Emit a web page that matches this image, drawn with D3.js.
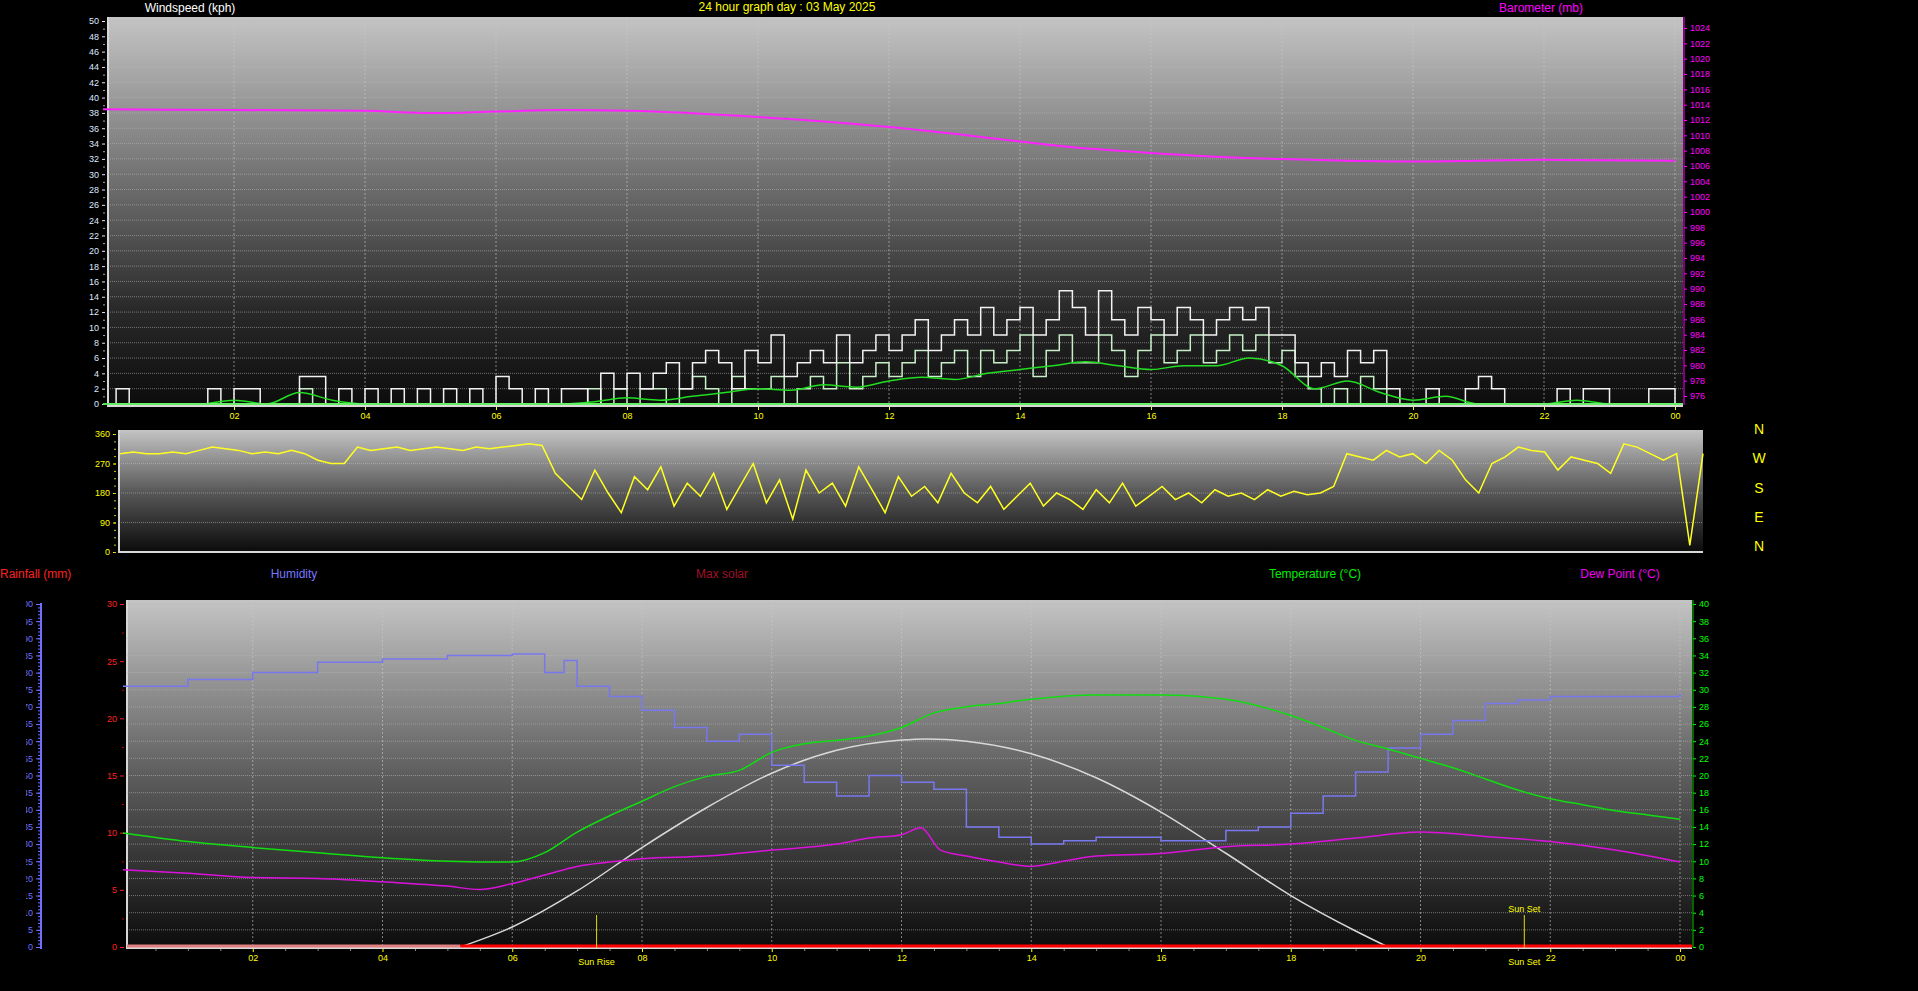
<!DOCTYPE html>
<html><head><meta charset="utf-8">
<script src="https://cdn.jsdelivr.net/npm/d3@7"></script>
<style>
body{margin:0;background:#000;overflow:hidden}
text{font-family:"Liberation Sans",Arial,sans-serif}
</style></head>
<body><div id="chart"></div>
<script>
// ---- data ----
const hourTicks = [2,4,6,8,10,12,14,16,18,20,22,24];
const hourLabels = ["02","04","06","08","10","12","14","16","18","20","22","00"];

// barometer (mb), hourly-ish
const baroHours = [0,2,4,5,6,7,8,10,12,13,14,15,16,17,18,19,20,22,24];
const baroValues = [1013.4,1013.3,1013.2,1012.9,1013.1,1013.3,1013.2,1012.4,1011.1,1010.2,1009.2,1008.3,1007.7,1007.2,1006.9,1006.7,1006.6,1006.8,1006.7];

// wind, 0.2 h steps
const gustValues = [0,2,0,0,0,0,0,0,2,0,2,2,0,0,0,3.6,3.6,0,2,0,2,0,2,0,2,
  0,2,0,2,0,3.6,2,0,2,0,2,2,0,4,2,4,2,4,5.4,2,5.4,7,5.4,2,7,
  5.4,9,3.6,5.4,7,5.4,9,5.4,7,9,7,9,11,7,9,11,9,12.6,9,11,12.6,9,11,14.8,12.6,
  9,14.8,11,9,12.6,11,9,12.6,11,9,11,12.6,11,12.6,9,9,5.4,3.6,5.4,3.6,7,5.4,7,2,0,
  0,2,0,0,2,3.6,2,0,0,0,0,2,0,2,2,0,0,0,2,2,0];
const speedValues = [0,0,0,0,0,0,0,0,0,0,0,0,0,0,0,2,0,0,0,0,0,0,0,0,0,
  0,0,0,0,0,0,0,0,0,0,0,0,2,0,2,0,2,2,0,2,3.6,2,0,3.6,2,
  2,3.6,0,2,3.6,2,5.4,2,3.6,5.4,3.6,5.4,7,3.6,5.4,7,3.6,7,5.4,7,9,3.6,7,9,5.4,
  5.4,9,7,3.6,7,9,5.4,7,9,5.4,7,9,7,9,5.4,7,3.6,2,0,2,0,3.6,2,0,0,
  0,0,0,0,0,0,0,0,0,0,0,0,0,0,0,0,0,0,0,0,0];
// average wind, 0.5 h steps
const avgValues = [0,0,0,0,0.5,0,1.5,0.5,0,0,
  0,0,0,0,0,0.3,0.8,0.5,1,1.5,
  2,1.8,2.5,2.2,3,3.5,3.2,4,4.5,5,
  5.5,5,4.5,5,5,6,5,2,3,1.5,
  0.5,1,0,0,0,0.5,0,0,0];
// wind direction (deg), 0.2 h steps
const dirValues = [300,305,300,300,305,300,310,320,315,310,300,305,300,310,300,
  280,270,270,320,310,315,320,310,315,320,315,310,320,315,320,
  325,330,325,240,200,
  160,250,180,120,230,190,260,140,210,170,
  240,130,200,270,150,220,100,250,180,210,
  140,260,190,120,230,170,200,150,240,180,
  150,200,130,170,210,140,180,160,130,190,
  150,210,140,170,200,160,180,150,190,170,
  180,160,190,170,185,
  175,180,200,300,290,
  280,310,290,300,270,310,280,220,180,270,290,320,310,305,250,290,280,270,240,330,320,300,280,300,20,300];

// bottom panel
const humHours = [0,1,2,3,4,5,6,6.5,6.8,7,7.5,8,8.5,9,9.5,10,10.5,11,11.5,12,12.5,13,13.5,14,14.5,15,16,17,17.5,18,18.5,19,19.5,20,20.5,21,21.5,22,23,24];
const humValues = [76,78,80,83,84,85,85.4,80,83.5,76,73,69,64,60,62,53,48,44,50,48,46,35,32,30,31,32,31,34,35,39,44,51,58,62,66,71,72,73,73,74];
const tempHours = [0,1,2,3,4,5,6,6.5,7,7.5,8,8.5,9,9.5,10,10.5,11,11.5,12,12.5,13,13.5,14,15,16,17,18,18.5,19,19.5,20,20.5,21,21.5,22,22.5,23,23.5,24];
const tempValues = [13.3,12.3,11.6,11,10.4,10,9.9,11,13.4,15.3,17,18.7,19.9,20.6,22.7,23.7,24.1,24.6,25.6,27.3,28,28.4,28.9,29.4,29.4,28.9,27,25.6,24.1,23.1,22,20.9,19.6,18.3,17.3,16.6,15.9,15.4,14.9];
const dewHours = [0,1,2,3,4,5,5.5,6,6.5,7,7.5,8,9,10,11,11.5,12,12.3,12.6,13,13.5,14,14.5,15,16,17,18,19,20,21,22,23,24];
const dewValues = [9,8.6,8.1,8,7.6,7.1,6.7,7.4,8.4,9.4,9.9,10.3,10.6,11.3,12,12.7,13.1,13.9,11.3,10.6,9.9,9.4,10,10.6,10.9,11.7,12,12.7,13.4,12.9,12.3,11.3,9.9];
const solarHours = [5.2,6,7,8,9,10,11,12,12.4,13,14,15,16,17,18,19,19.5];
const solarValues = [0,1.75,4.9,8.7,12.2,15.2,17.2,18.1,18.2,18,16.9,14.8,11.8,8.2,4.5,1.4,0];
const sunRise = 7.3, sunSet = 21.6;

// ---- drawing ----
const W = 1918, H = 991;
const svg = d3.select("#chart").append("svg").attr("width", W).attr("height", H)
  .style("background", "#000");
const defs = svg.append("defs");

function gradient(id, stops) {
  const g = defs.append("linearGradient").attr("id", id)
    .attr("x1", 0).attr("y1", 0).attr("x2", 0).attr("y2", 1);
  stops.forEach(s => g.append("stop").attr("offset", s[0]).attr("stop-color", s[1]));
}
gradient("bgTop", [[0, "#c4c4c4"], [0.45, "#6a6a6a"], [0.75, "#2a2a2a"], [1, "#0c0c0c"]]);
gradient("bgDir", [[0, "#c4c4c4"], [0.5, "#5a5a5a"], [1, "#0c0c0c"]]);
gradient("bgBot", [[0, "#c4c4c4"], [0.5, "#5e5e5e"], [1, "#0c0c0c"]]);

function panel(x0, x1, y0, y1, fill) {
  svg.append("rect").attr("x", x0).attr("y", y0).attr("width", x1 - x0).attr("height", y1 - y0)
    .attr("fill", `url(#${fill})`);
  svg.append("line").attr("x1", x0).attr("x2", x0).attr("y1", y0).attr("y2", y1 + 2)
    .attr("stroke", "#d8d8d8").attr("stroke-width", 2);
  svg.append("line").attr("x1", x0).attr("x2", x1).attr("y1", y1 + 1).attr("y2", y1 + 1)
    .attr("stroke", "#d8d8d8").attr("stroke-width", 2);
}
function hgrid(x0, x1, ys) {
  svg.append("g").selectAll("line").data(ys).join("line")
    .attr("x1", x0).attr("x2", x1).attr("y1", d => d).attr("y2", d => d)
    .attr("stroke", "#b8b8b8").attr("stroke-opacity", 0.55).attr("stroke-dasharray", "1,1");
}
function vgrid(xs, y0, y1) {
  svg.append("g").selectAll("line").data(xs).join("line")
    .attr("x1", d => d).attr("x2", d => d).attr("y1", y0).attr("y2", y1)
    .attr("stroke", "#c8c8c8").attr("stroke-opacity", 0.6).attr("stroke-dasharray", "2,2");
}
function styleAxis(g, color) {
  g.select(".domain").remove();
  g.selectAll("line").attr("stroke", color);
  g.selectAll("text").attr("fill", color).style("font-size", "9px");
}
function label(x, y, t, color, anchor = "middle", size = 12) {
  svg.append("text").attr("x", x).attr("y", y).attr("fill", color).attr("text-anchor", anchor)
    .style("font-size", size + "px").text(t);
}
const idx02 = (v, i) => [i * 0.2, v];
const idx05 = (v, i) => [i * 0.5, v];

// Top panel: wind & barometer
const t = {x0: 108, x1: 1683, y0: 17, y1: 405};
const xTop = d3.scaleLinear().domain([0, 24]).range([103, 1675]);
const yWind = d3.scaleLinear().domain([0, 50]).range([404, 21]);
const yBaro = d3.scaleLinear().domain([976, 1024]).range([396, 28]);
panel(t.x0, t.x1, t.y0, t.y1, "bgTop");
hgrid(t.x0, t.x1, d3.range(2, 51, 2).map(yWind));
vgrid(hourTicks.map(xTop), t.y0, t.y1);

styleAxis(svg.append("g").attr("transform", `translate(${t.x0 - 3},0)`)
  .call(d3.axisLeft(yWind).tickValues(d3.range(0, 51, 2)).tickSize(3).tickFormat(d3.format("d"))), "#dfe8ff");
styleAxis(svg.append("g").attr("transform", `translate(${t.x0 - 3},0)`)
  .call(d3.axisLeft(yWind).tickValues(d3.range(1, 50, 2)).tickSize(2).tickFormat("")), "#aaaaaa");
styleAxis(svg.append("g").attr("transform", `translate(${t.x1 + 1},0)`)
  .call(d3.axisRight(yBaro).tickValues(d3.range(976, 1025, 2)).tickSize(3).tickFormat(d3.format("d"))), "#ff00ff");
svg.append("line").attr("x1", t.x1 + 1).attr("x2", t.x1 + 1).attr("y1", t.y0).attr("y2", t.y1)
  .attr("stroke", "#ff00ff");
styleAxis(svg.append("g").attr("transform", `translate(0,${t.y1 + 2})`)
  .call(d3.axisBottom(xTop).tickValues(hourTicks).tickSize(3).tickFormat((d, i) => hourLabels[i])), "#ffff00");

const lineTop = d3.line().x(d => xTop(d[0]));
svg.append("path").datum(speedValues.map(idx02))
  .attr("d", lineTop.y(d => yWind(d[1])).curve(d3.curveStepAfter))
  .attr("fill", "none").attr("stroke", "#c8f0c8").attr("stroke-width", 1.5);
svg.append("path").datum(gustValues.map(idx02))
  .attr("d", lineTop.y(d => yWind(d[1])).curve(d3.curveStepAfter))
  .attr("fill", "none").attr("stroke", "#f2f2f2").attr("stroke-width", 1.5);
svg.append("path").datum(avgValues.map(idx05))
  .attr("d", lineTop.y(d => yWind(d[1])).curve(d3.curveMonotoneX))
  .attr("fill", "none").attr("stroke", "#22dd22").attr("stroke-width", 1.5);
svg.append("line").attr("x1", t.x0).attr("x2", t.x1).attr("y1", yWind(0)).attr("y2", yWind(0))
  .attr("stroke", "#66ee66").attr("stroke-width", 2);
svg.append("path").datum(baroHours.map((h, i) => [h, baroValues[i]]))
  .attr("d", lineTop.y(d => yBaro(d[1])).curve(d3.curveMonotoneX))
  .attr("fill", "none").attr("stroke", "#ff22ff").attr("stroke-width", 2);

label(190, 12, "Windspeed (kph)", "#ffffff");
label(787, 11, "24 hour graph day : 03 May 2025", "#ffff00");
label(1541, 12, "Barometer (mb)", "#ff00ff");

// Direction panel
const dp = {x0: 119, x1: 1703, y0: 430, y1: 551};
const xDir = d3.scaleLinear().domain([0, 24]).range([120, 1703]);
const yDir = d3.scaleLinear().domain([0, 360]).range([552, 434]);
panel(dp.x0, dp.x1, dp.y0, dp.y1, "bgDir");
hgrid(dp.x0, dp.x1, [90, 180, 270, 360].map(yDir));
styleAxis(svg.append("g").attr("transform", `translate(${dp.x0 - 3},0)`)
  .call(d3.axisLeft(yDir).tickValues([0, 90, 180, 270, 360]).tickSize(3)), "#ffff00");
styleAxis(svg.append("g").attr("transform", `translate(${dp.x0 - 3},0)`)
  .call(d3.axisLeft(yDir).tickValues(d3.range(0, 361, 22.5)).tickSize(2).tickFormat("")), "#cccc00");
svg.append("path").datum(dirValues.map(idx02))
  .attr("d", d3.line().x(d => xDir(d[0])).y(d => yDir(d[1])))
  .attr("fill", "none").attr("stroke", "#ffff22").attr("stroke-width", 1.5);
["N", "W", "S", "E", "N"].forEach((c, i) => label(1759, 434 + i * 29.3, c, "#ffff00", "middle", 14));

// Bottom panel
const bp = {x0: 127, x1: 1692, y0: 600, y1: 947};
const xBot = d3.scaleLinear().domain([0, 24]).range([123, 1680]);
const yRain = d3.scaleLinear().domain([0, 30]).range([947, 604]);
const yTemp = d3.scaleLinear().domain([0, 40]).range([947, 604]);
const yHum = d3.scaleLinear().domain([0, 100]).range([947, 604]);
panel(bp.x0, bp.x1, bp.y0, bp.y1, "bgBot");
hgrid(bp.x0, bp.x1, d3.range(2, 41, 2).map(yTemp));
vgrid(hourTicks.map(xBot), bp.y0, bp.y1);

styleAxis(svg.append("g").attr("transform", `translate(${bp.x0 - 3},0)`)
  .call(d3.axisLeft(yRain).tickValues(d3.range(0, 31, 5)).tickSize(4)), "#ff2020");
styleAxis(svg.append("g").attr("transform", `translate(${bp.x0 - 3},0)`)
  .call(d3.axisLeft(yRain).tickValues(d3.range(2.5, 30, 2.5).filter(d => d % 5)).tickSize(2).tickFormat("")), "#cc0000");
styleAxis(svg.append("g").attr("transform", `translate(${bp.x1 + 1},0)`)
  .call(d3.axisRight(yTemp).tickValues(d3.range(0, 41, 2)).tickSize(3)), "#00ff00");
svg.append("line").attr("x1", bp.x1 + 1).attr("x2", bp.x1 + 1).attr("y1", bp.y0).attr("y2", bp.y1)
  .attr("stroke", "#00cc00");
styleAxis(svg.append("g").attr("transform", `translate(0,${bp.y1 + 2})`)
  .call(d3.axisBottom(xBot).tickValues(hourTicks).tickSize(3).tickFormat((d, i) => hourLabels[i])), "#ffff00");
styleAxis(svg.append("g").attr("transform", `translate(0,${bp.y1 + 2})`)
  .call(d3.axisBottom(xBot).tickValues(d3.range(0.5, 24, 0.5).filter(d => d % 2)).tickSize(2).tickFormat("")), "#888888");

// humidity axis at far left, labels cut off at the page edge
defs.append("clipPath").attr("id", "humClip").append("rect").attr("x", 26).attr("y", 590).attr("width", 40).attr("height", 370);
const humAx = svg.append("g").attr("clip-path", "url(#humClip)").append("g").attr("transform", "translate(40,0)")
  .call(d3.axisLeft(yHum).tickValues(d3.range(0, 101, 5)).tickSize(4));
styleAxis(humAx, "#7070ff");
styleAxis(svg.append("g").attr("transform", "translate(40,0)")
  .call(d3.axisLeft(yHum).tickValues(d3.range(1, 100, 1)).tickSize(2).tickFormat("")), "#7070ff");
svg.append("line").attr("x1", 41).attr("x2", 41).attr("y1", 603).attr("y2", 949)
  .attr("stroke", "#7070ff").attr("stroke-width", 2);

const lineBot = d3.line().x(d => xBot(d[0]));
svg.append("path").datum(solarHours.map((h, i) => [h, solarValues[i]]))
  .attr("d", lineBot.y(d => yRain(d[1])).curve(d3.curveMonotoneX))
  .attr("fill", "none").attr("stroke", "#d8d8d8").attr("stroke-width", 1.5);
svg.append("path").datum(humHours.map((h, i) => [h, humValues[i]]))
  .attr("d", lineBot.y(d => yHum(d[1])).curve(d3.curveStepAfter))
  .attr("fill", "none").attr("stroke", "#7878ee").attr("stroke-width", 1.5);
svg.append("path").datum(tempHours.map((h, i) => [h, tempValues[i]]))
  .attr("d", lineBot.y(d => yTemp(d[1])).curve(d3.curveMonotoneX))
  .attr("fill", "none").attr("stroke", "#11dd11").attr("stroke-width", 1.5);
svg.append("path").datum(dewHours.map((h, i) => [h, dewValues[i]]))
  .attr("d", lineBot.y(d => yTemp(d[1])).curve(d3.curveMonotoneX))
  .attr("fill", "none").attr("stroke", "#dd11dd").attr("stroke-width", 1.5);
// rainfall at zero
svg.append("line").attr("x1", bp.x0).attr("x2", xBot(solarHours[0])).attr("y1", yRain(0) - 1).attr("y2", yRain(0) - 1)
  .attr("stroke", "#e08080").attr("stroke-width", 3);
svg.append("line").attr("x1", xBot(solarHours[0])).attr("x2", bp.x1).attr("y1", yRain(0) - 1).attr("y2", yRain(0) - 1)
  .attr("stroke", "#ff0000").attr("stroke-width", 3);

// sun rise / set markers
[[sunRise, "Sun Rise"], [sunSet, "Sun Set"]].forEach(([h, txt], i) => {
  svg.append("line").attr("x1", xBot(h)).attr("x2", xBot(h)).attr("y1", 915).attr("y2", 948)
    .attr("stroke", "#dddd00");
  label(xBot(h), 965, txt, "#ffff00", "middle", 9);
  if (i === 1) label(xBot(h), 912, txt, "#ffff00", "middle", 9);
});

label(0, 578, "Rainfall (mm)", "#ff2020", "start");
label(294, 578, "Humidity", "#7878ff");
label(722, 578, "Max solar", "#a0102a");
label(1315, 578, "Temperature (°C)", "#00ee00");
label(1620, 578, "Dew Point (°C)", "#ee00ee");
</script></body></html>
